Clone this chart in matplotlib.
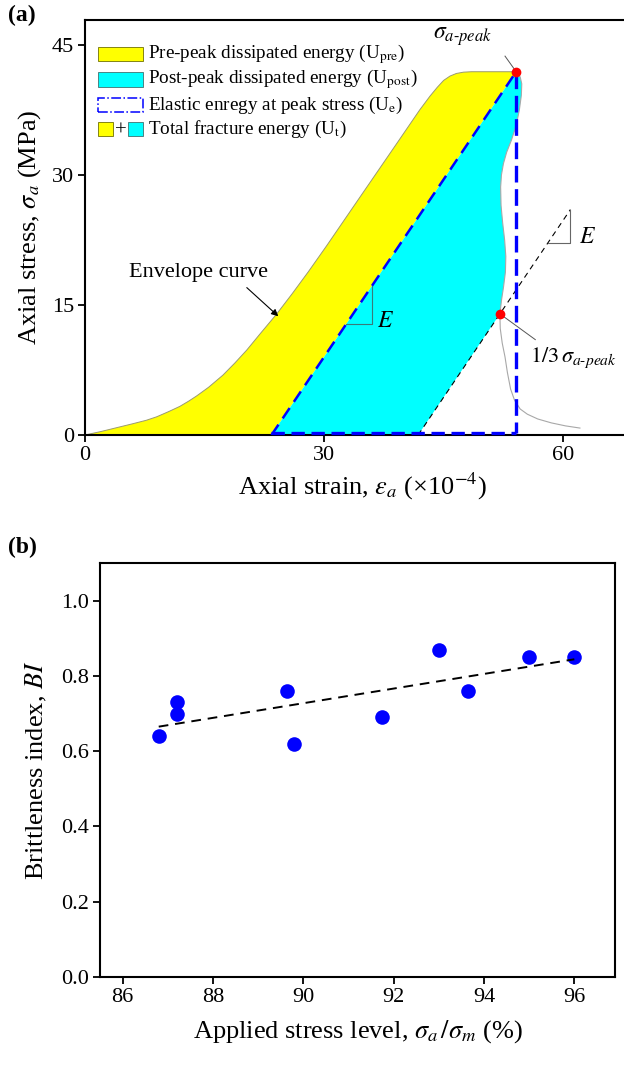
import numpy as np
import matplotlib.pyplot as plt
from matplotlib.patches import Rectangle

plt.rcParams['font.family'] = ['Liberation Serif', 'DejaVu Serif']
plt.rcParams['mathtext.fontset'] = 'stix'

# ---- (a) stress-strain curve, strain in 1e-4, stress in MPa
env_strain = [0, 2, 4, 6, 7.7, 9, 10.5, 11.9, 13, 14, 15.5, 17.3, 18.8, 20.3,
              22, 24, 26, 28, 30.3, 34.1, 39.1, 42, 43.3, 44.2, 45.0, 45.8, 46.6,
              47.5, 48.5, 51, 54.1]
env_stress = [0, 0.4, 0.85, 1.3, 1.7, 2.1, 2.7, 3.3, 3.9, 4.5, 5.5, 6.9, 8.3, 9.8,
              11.7, 13.9, 16.3, 18.8, 21.8, 26.9, 33.6, 37.5, 39.1, 40.1, 40.9, 41.4,
              41.7, 41.85, 41.9, 41.9, 41.9]
# post-peak curve: peak -> 1/3 peak point
post_strain_a = [54.1, 54.6, 54.8, 54.75, 54.5, 54.1, 53.5, 52.9, 52.5, 52.25, 52.15,
                 52.2, 52.4, 52.65, 52.8, 52.75, 52.5, 52.25, 52.06]
post_stress_a = [41.9, 41.3, 40.5, 39.2, 37.5, 35.7, 34.0, 32.6, 31.3, 30.0, 28.6,
                 26.5, 24.5, 22.5, 20.6, 18.8, 17.0, 15.5, 13.97]
# post-peak curve: 1/3 peak point -> tail
post_strain_b = [52.06, 52.1, 52.35, 52.7, 53.0, 53.4, 53.9, 54.6, 55.5, 56.8,
                 58.5, 60.3, 62.1]
post_stress_b = [13.97, 12.3, 10.6, 9.0, 7.2, 5.3, 4.0, 3.0, 2.4, 1.85,
                 1.4, 1.05, 0.8]
peak_strain, peak_stress = 54.1, 41.9
unload_foot = 23.4
third_strain, third_stress = 52.06, 13.97
e_line_strain = [41.8, 60.9]
e_line_stress = [0, 26.0]

# ---- (b) brittleness index
stress_level = [86.8, 87.2, 87.2, 89.65, 89.8, 91.75, 93.0, 93.65, 95.0, 96.0]
bi = [0.64, 0.73, 0.70, 0.76, 0.62, 0.69, 0.87, 0.76, 0.85, 0.85]

fig = plt.figure(figsize=(6.24, 10.65), dpi=100)

# ================= (a)
ax1 = fig.add_axes([85/624, 1-435/1065, 555/624, 415/1065])
ax1.set_xlim(0, 555/7.97)
ax1.set_ylim(0, 415/8.67)

ax1.fill(env_strain + [unload_foot], env_stress + [0], color='#ffff00', lw=0, zorder=1)
ax1.plot(env_strain, env_stress, color='#9a9a70', lw=0.7, zorder=2)
ax1.fill([unload_foot] + post_strain_a + [e_line_strain[0]],
         [0] + post_stress_a + [0], color='#00ffff', lw=0, zorder=1)
ax1.plot(post_strain_a + post_strain_b, post_stress_a + post_stress_b,
         color='#a8a8a8', lw=0.8, zorder=2)

blue = '#0000ff'
ax1.plot([unload_foot, peak_strain], [0, peak_stress], color=blue, lw=1.8,
         dashes=(5, 3), zorder=4)
ax1.plot([peak_strain, peak_strain], [peak_stress, 0.25], color=blue, lw=2.4,
         dashes=(5, 2), zorder=4)
ax1.plot([unload_foot, peak_strain], [0.25, 0.25], color=blue, lw=2.4,
         dashes=(4, 2), zorder=4, clip_on=False)
ax1.plot(e_line_strain, e_line_stress, color='k', lw=0.8, dashes=(5, 4), zorder=3)
ax1.plot([peak_strain, third_strain], [peak_stress, third_stress], 'o',
         color='#ff0000', ms=7, mec='none', zorder=6)

# slope triangles
E = peak_stress / (peak_strain - unload_foot)
x1, x2 = 32.8, 36.0
ax1.plot([x1, x2, x2], [E*(x1-unload_foot)]*2 + [E*(x2-unload_foot)],
         color='#3a7a7a', lw=0.8, zorder=3)
ax1.text(x2 + 0.6, E*(x1-unload_foot) + 0.3, '$E$', fontsize=17, va='center')
E2 = (e_line_stress[1]-e_line_stress[0]) / (e_line_strain[1]-e_line_strain[0])
x1, x2 = 58.1, e_line_strain[1]
ax1.plot([x1, x2, x2], [E2*(x1-e_line_strain[0])]*2 + [e_line_stress[1]],
         color='#666666', lw=0.8, zorder=3)
ax1.text(x2 + 1.1, E2*(x1-e_line_strain[0]) + 0.6, '$E$', fontsize=17, va='center')

# annotations
ax1.plot([52.7, peak_strain], [43.7, peak_stress], color='#555555', lw=0.7)
ax1.text(47.4, 46.0, r'$\sigma_{a\text{-}peak}$', fontsize=17, ha='center', va='center')
ax1.plot([third_strain, 56.5], [third_stress, 11.0], color='#555555', lw=0.7)
ax1.text(55.8, 8.9, r'$1/3\,\sigma_{a\text{-}peak}$', fontsize=16, ha='left', va='center')
ax1.text(14.2, 18.8, 'Envelope curve', fontsize=16, ha='center', va='center')
ax1.annotate('', xy=(24.25, 13.7), xytext=(20.3, 17.0),
             arrowprops=dict(arrowstyle='-|>', color='k', lw=0.8,
                             shrinkA=0, shrinkB=0, mutation_scale=10))

# manual legend
def fx(px):
    return (px - 85) / 555

def fy(py):
    return (435 - py) / 415

ph = 14 / 415
rows = [54, 79.5, 105, 129]
legend_txt = [r'Pre-peak dissipated energy (U$_{\rm pre}$)',
              r'Post-peak dissipated energy (U$_{\rm post}$)',
              r'Elastic enregy at peak stress (U$_{\rm e}$)',
              r'Total fracture energy (U$_{\rm t}$)']
ax1.add_patch(Rectangle((fx(98), fy(rows[0]) - ph/2), 45/555, ph, transform=ax1.transAxes,
                        fc='#ffff00', ec='#707000', lw=0.6, clip_on=False, zorder=7))
ax1.add_patch(Rectangle((fx(98), fy(rows[1]) - ph/2), 45/555, ph, transform=ax1.transAxes,
                        fc='#00ffff', ec='#407070', lw=0.6, clip_on=False, zorder=7))
ax1.add_patch(Rectangle((fx(98), fy(rows[2]) - ph/2), 45/555, ph, transform=ax1.transAxes,
                        fc='white', ec=blue, lw=1.1, ls='-.', clip_on=False, zorder=7))
ax1.add_patch(Rectangle((fx(98), fy(rows[3]) - ph/2), 15/555, ph, transform=ax1.transAxes,
                        fc='#ffff00', ec='#707000', lw=0.6, clip_on=False, zorder=7))
ax1.add_patch(Rectangle((fx(128), fy(rows[3]) - ph/2), 15/555, ph, transform=ax1.transAxes,
                        fc='#00ffff', ec='#407070', lw=0.6, clip_on=False, zorder=7))
ax1.text(fx(120.5), fy(rows[3]), '+', transform=ax1.transAxes, fontsize=15,
         ha='center', va='center_baseline')
for r, t in zip(rows, legend_txt):
    ax1.text(fx(148), fy(r), t, transform=ax1.transAxes, fontsize=13.8,
             ha='left', va='center')

ax1.set_xticks([0, 30, 60])
ax1.set_yticks([0, 15, 30, 45])
ax1.set_xlabel(r'Axial strain, $\varepsilon_a$ (×10$^{-4}$)', fontsize=19, labelpad=4)
ax1.set_ylabel(r'Axial stress, $\sigma_a$ (MPa)', fontsize=19, labelpad=6)

# ================= (b)
ax2 = fig.add_axes([100/624, 1-977/1065, 515/624, 414/1065])
ax2.set_xlim(85.5, 96.9)
ax2.set_ylim(0, 1.1)
ax2.plot(stress_level, bi, 'o', color=blue, ms=10.5, mec='none', zorder=2)
coef = np.polyfit(stress_level, bi, 1)
xs = np.array([min(stress_level), max(stress_level)])
ax2.plot(xs, np.polyval(coef, xs), color='k', lw=1.4, dashes=(5, 3.5), zorder=3)
ax2.set_xticks([86, 88, 90, 92, 94, 96])
ax2.set_yticks([0, 0.2, 0.4, 0.6, 0.8, 1.0])
ax2.set_yticklabels(['0.0', '0.2', '0.4', '0.6', '0.8', '1.0'])
ax2.set_xlabel(r'Applied stress level, $\sigma_a\,/\sigma_m$ (%)', fontsize=19, labelpad=8)
ax2.set_ylabel(r'Brittleness index, $BI$', fontsize=19, labelpad=9)

for ax in (ax1, ax2):
    for s in ax.spines.values():
        s.set_linewidth(1.5)
    ax.tick_params(direction='out', length=5, width=1.3, labelsize=16, pad=3)

fig.text(22/624, 1-15/1065, '(a)', fontsize=17, fontweight='bold', ha='center', va='center')
fig.text(22/624, 1-547/1065, '(b)', fontsize=17, fontweight='bold', ha='center', va='center')

fig.savefig('out.png', dpi=100)
